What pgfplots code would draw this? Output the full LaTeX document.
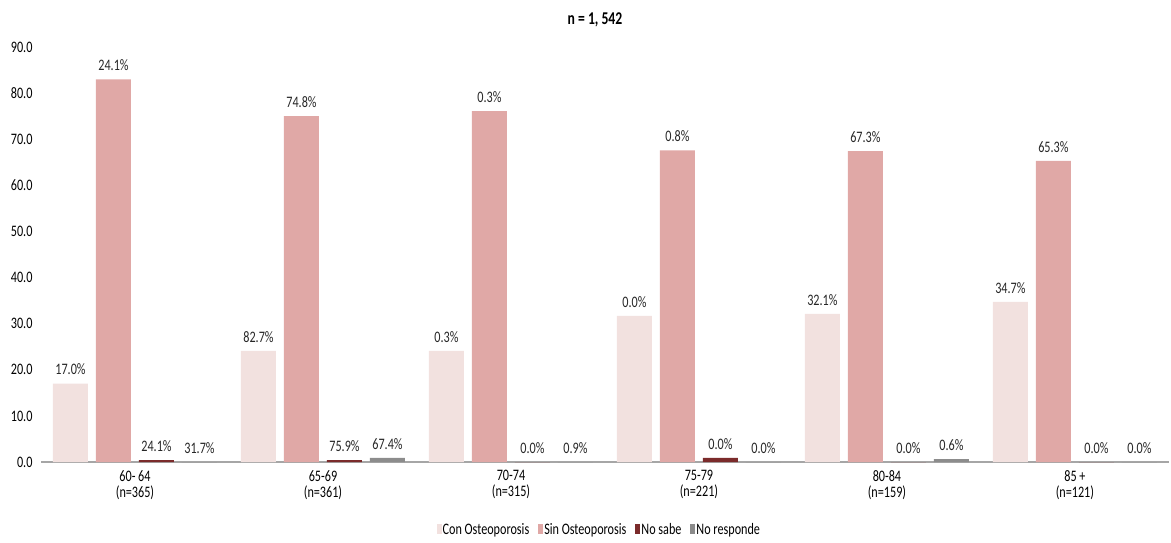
\documentclass[border=0pt]{standalone}
\usepackage{fontspec}
\setmainfont{Carlito}[FakeStretch=0.76]
\usepackage{pgfplots}
\pgfplotsset{compat=1.18}
\usepackage{pgfplotstable}
\definecolor{con}{HTML}{F2E1DF}
\definecolor{sin}{HTML}{E0A8A6}
\definecolor{nsabe}{HTML}{7B2B2B}
\definecolor{nresp}{HTML}{8C8C8C}
\definecolor{axgray}{HTML}{A6A6A6}
\pgfplotstableread{
x y m
0 17.0 17.0
1 24.1 82.7
2 24.1 0.3
3 31.7 0.0
4 32.1 32.1
5 34.7 34.7
}\con
\pgfplotstableread{
x y m
0 83.0 24.1
1 75.0 74.8
2 76.1 0.3
3 67.6 0.8
4 67.4 67.3
5 65.3 65.3
}\sin
\pgfplotstableread{
x y m
0 0.4 24.1
1 0.4 75.9
2 0.0 0.0
3 0.9 0.0
4 0.0 0.0
5 0.0 0.0
}\nsabe
\pgfplotstableread{
x y m
0 0.0 31.7
1 0.9 67.4
2 0.0 0.9
3 0.0 0.0
4 0.6 0.6
5 0.0 0.0
}\nresp
\begin{document}
\fontsize{16}{17}\selectfont
\begin{tikzpicture}[x=1pt,y=1pt]
\useasboundingbox (0,0) rectangle (1171,542);
\node[font=\fontsize{18}{18}\selectfont\bfseries] at (595,522) {n = 1, 542};
\begin{axis}[
  at={(41pt,80pt)}, anchor=south west,
  scale only axis, width=1128pt, height=415pt,
  ymin=0, ymax=90, xmin=-0.5, xmax=5.5,
  ytick={0,10,...,90},
  /pgf/number format/assume math mode=true,
  yticklabel style={/pgf/number format/fixed, /pgf/number format/fixed zerofill, /pgf/number format/precision=1},
  yticklabel style={font=\fontsize{16}{17}\selectfont, xshift=-3pt},
  xtick=data,
  xticklabels={{60- 64\\(n=365)},{65-69\\(n=361)},{70-74\\(n=315)},{75-79\\(n=221)},{80-84\\(n=159)},{85 +\\(n=121)}},
  xticklabel style={align=center, font=\fontsize{16}{16}\selectfont, yshift=-3pt},
  major tick length=0pt,
  axis x line*=bottom, axis y line*=left,
  x axis line style={axgray, line width=1.2pt, -},
  y axis line style={draw=none},
  ybar=8pt, bar width=35pt,
  point meta=explicit symbolic,
  nodes near coords={\pgfplotspointmeta\%},
  nodes near coords style={font=\fontsize{16}{17}\selectfont, text=black!85, anchor=south, yshift=3pt},
  legend style={at={(0.495,-0.165)}, anchor=center, draw=none, legend columns=-1,
    font=\fontsize{16}{17}\selectfont, /tikz/every even column/.append style={column sep=7pt},
    /tikz/every odd column/.append style={column sep=-1pt}},
  legend image code/.code={\fill[#1] (0pt,-4pt) rectangle (5pt,6pt);},
  clip=false,
]
\addplot[fill=con, draw=none] table[x=x,y=y,meta=m]{\con};
\addplot[fill=sin, draw=none] table[x=x,y=y,meta=m]{\sin};
\addplot[fill=nsabe, draw=none] table[x=x,y=y,meta=m]{\nsabe};
\addplot[fill=nresp, draw=none] table[x=x,y=y,meta=m]{\nresp};
\legend{Con Osteoporosis, Sin Osteoporosis, No sabe, No responde}
\end{axis}
\end{tikzpicture}
\end{document}
